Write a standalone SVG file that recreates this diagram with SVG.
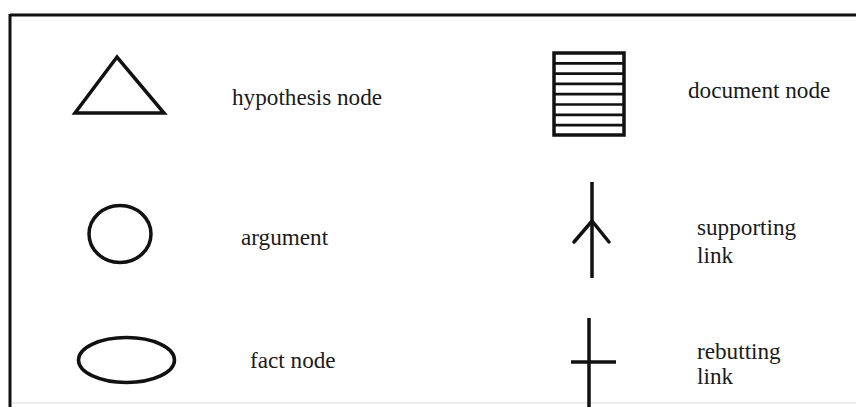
<svg xmlns="http://www.w3.org/2000/svg" width="856" height="407" viewBox="0 0 856 407">
<style>
.s{fill:none;stroke:#111;stroke-width:3.5;stroke-linejoin:miter}
.t{font-family:"Liberation Serif","Times New Roman",serif;font-size:23.2px;fill:#1a1a1a}
</style>
<rect width="856" height="407" fill="#fff"/>
<g id="frame">
<path d="M10,15 H856" stroke="#111" stroke-width="3" fill="none"/>
<path d="M10,14 V407" stroke="#111" stroke-width="3" fill="none"/>
<path d="M12,403 H856" stroke="#e6e6e6" stroke-width="1.5" fill="none"/>
</g>
<g id="hypothesis">
<polygon class="s" points="117,57 75,113 164,113"/>
<text class="t" x="232" y="105">hypothesis node</text>
</g>
<g id="document">
<rect class="s" x="554" y="53" width="70" height="82"/>
<path d="M554,63.3 H624 M554,73.6 H624 M554,83.9 H624 M554,94.2 H624 M554,104.5 H624 M554,114.8 H624 M554,125.1 H624" stroke="#111" stroke-width="2.7" fill="none"/>
<text class="t" x="688" y="98">document node</text>
</g>
<g id="argument">
<ellipse class="s" cx="120" cy="234" rx="31" ry="28.5"/>
<text class="t" x="241" y="245">argument</text>
</g>
<g id="fact">
<ellipse class="s" cx="126.5" cy="360" rx="48" ry="22.5"/>
<text class="t" x="250" y="368">fact node</text>
</g>
<g id="connectors">
<g id="supporting">
<path d="M592,182 V278" class="s"/>
<path d="M574,242 L592,221 L609,242" class="s" stroke-linecap="round"/>
</g>
<g id="rebutting">
<path d="M589,318 V407" class="s"/>
<path d="M571,362 H616" class="s"/>
</g>
</g>
<g id="labels">
<text class="t" x="697" y="235">supporting</text>
<text class="t" x="697" y="263">link</text>
<text class="t" x="697" y="359">rebutting</text>
<text class="t" x="697" y="384">link</text>
</g>
</svg>
